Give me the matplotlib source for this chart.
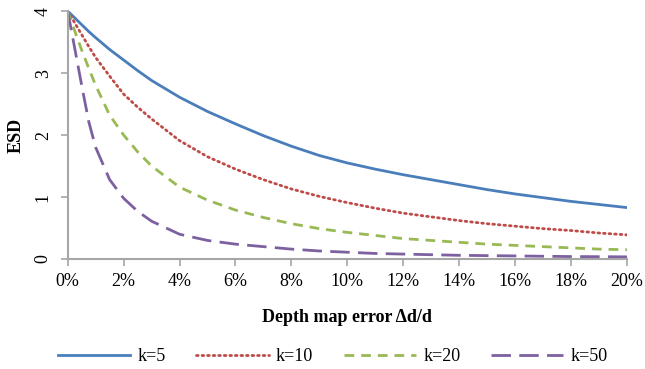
import matplotlib
matplotlib.use("Agg")
import matplotlib.pyplot as plt
from matplotlib.ticker import FuncFormatter

# depth map error (percent) and ESD for each k
err_pct = [0, 0.25, 0.5, 0.75, 1, 1.5, 2, 2.5, 3, 4, 5, 6, 7, 8, 9, 10,
           11, 12, 13, 14, 15, 16, 17, 18, 19, 20]
esd_k5 = [4.00, 3.89, 3.78, 3.67, 3.57, 3.38, 3.21, 3.04, 2.88, 2.61, 2.38,
          2.18, 1.99, 1.82, 1.67, 1.55, 1.45, 1.36, 1.28, 1.20, 1.12, 1.05,
          0.99, 0.93, 0.88, 0.83]
esd_k10 = [4.00, 3.81, 3.62, 3.43, 3.25, 2.95, 2.66, 2.45, 2.26, 1.91, 1.65,
           1.45, 1.28, 1.13, 1.01, 0.91, 0.82, 0.74, 0.68, 0.62, 0.57, 0.53,
           0.49, 0.46, 0.42, 0.39]
esd_k20 = [4.00, 3.68, 3.37, 3.08, 2.80, 2.32, 2.00, 1.73, 1.50, 1.16, 0.95,
           0.79, 0.67, 0.57, 0.49, 0.43, 0.38, 0.33, 0.30, 0.27, 0.24, 0.22,
           0.20, 0.18, 0.16, 0.15]
esd_k50 = [4.00, 3.40, 2.80, 2.22, 1.80, 1.28, 0.98, 0.77, 0.61, 0.40, 0.30,
           0.24, 0.20, 0.16, 0.13, 0.11, 0.09, 0.08, 0.07, 0.06, 0.055, 0.05,
           0.045, 0.04, 0.038, 0.035]

series = [
    ("k=5", esd_k5, "#4A7EBB", "-"),
    ("k=10", esd_k10, "#BE4B48", (0, (0.6, 1.4))),
    ("k=20", esd_k20, "#98B954", (0, (3.5, 2.5))),
    ("k=50", esd_k50, "#7D60A0", (0, (7, 3))),
]

plt.rcParams["font.family"] = ["Liberation Serif", "DejaVu Serif"]

fig = plt.figure(figsize=(6.45, 3.69), dpi=100)
ax = fig.add_axes([0.105, 0.298, 0.867, 0.672])

for label, vals, color, ls in series:
    ax.plot(err_pct, vals, color=color, linestyle=ls, lw=2.0, label=label,
            dash_capstyle="round" if label == "k=10" else "butt")

ax.set_xlim(0, 20)
ax.set_ylim(0, 4)
ax.set_xticks(range(0, 21, 2))
ax.set_yticks(range(0, 5))
ax.xaxis.set_major_formatter(FuncFormatter(lambda v, p: f"{v:.0f}%"))
for lbl in ax.get_yticklabels():
    lbl.set_rotation(90)
    lbl.set_va("center")

for side in ("top", "right"):
    ax.spines[side].set_visible(False)
for side in ("left", "bottom"):
    ax.spines[side].set_color("#A6A6A6")
    ax.spines[side].set_linewidth(1.5)
ax.tick_params(axis="both", colors="#A6A6A6", labelcolor="black",
               labelsize=13, length=5, width=1.2)
ax.tick_params(axis="x", pad=5)
ax.tick_params(axis="y", pad=6.5)

ax.set_xlabel("Depth map error \u0394d/d", fontsize=13, fontweight="bold",
              labelpad=14)
ax.set_ylabel("ESD", fontsize=13, fontweight="bold", labelpad=7)

fig.legend(loc="center", bbox_to_anchor=(0.516, 0.033), ncol=4,
           frameon=False, fontsize=13, handlelength=4.0, handletextpad=0.4,
           columnspacing=1.7)

fig.savefig("out.png", dpi=100)
